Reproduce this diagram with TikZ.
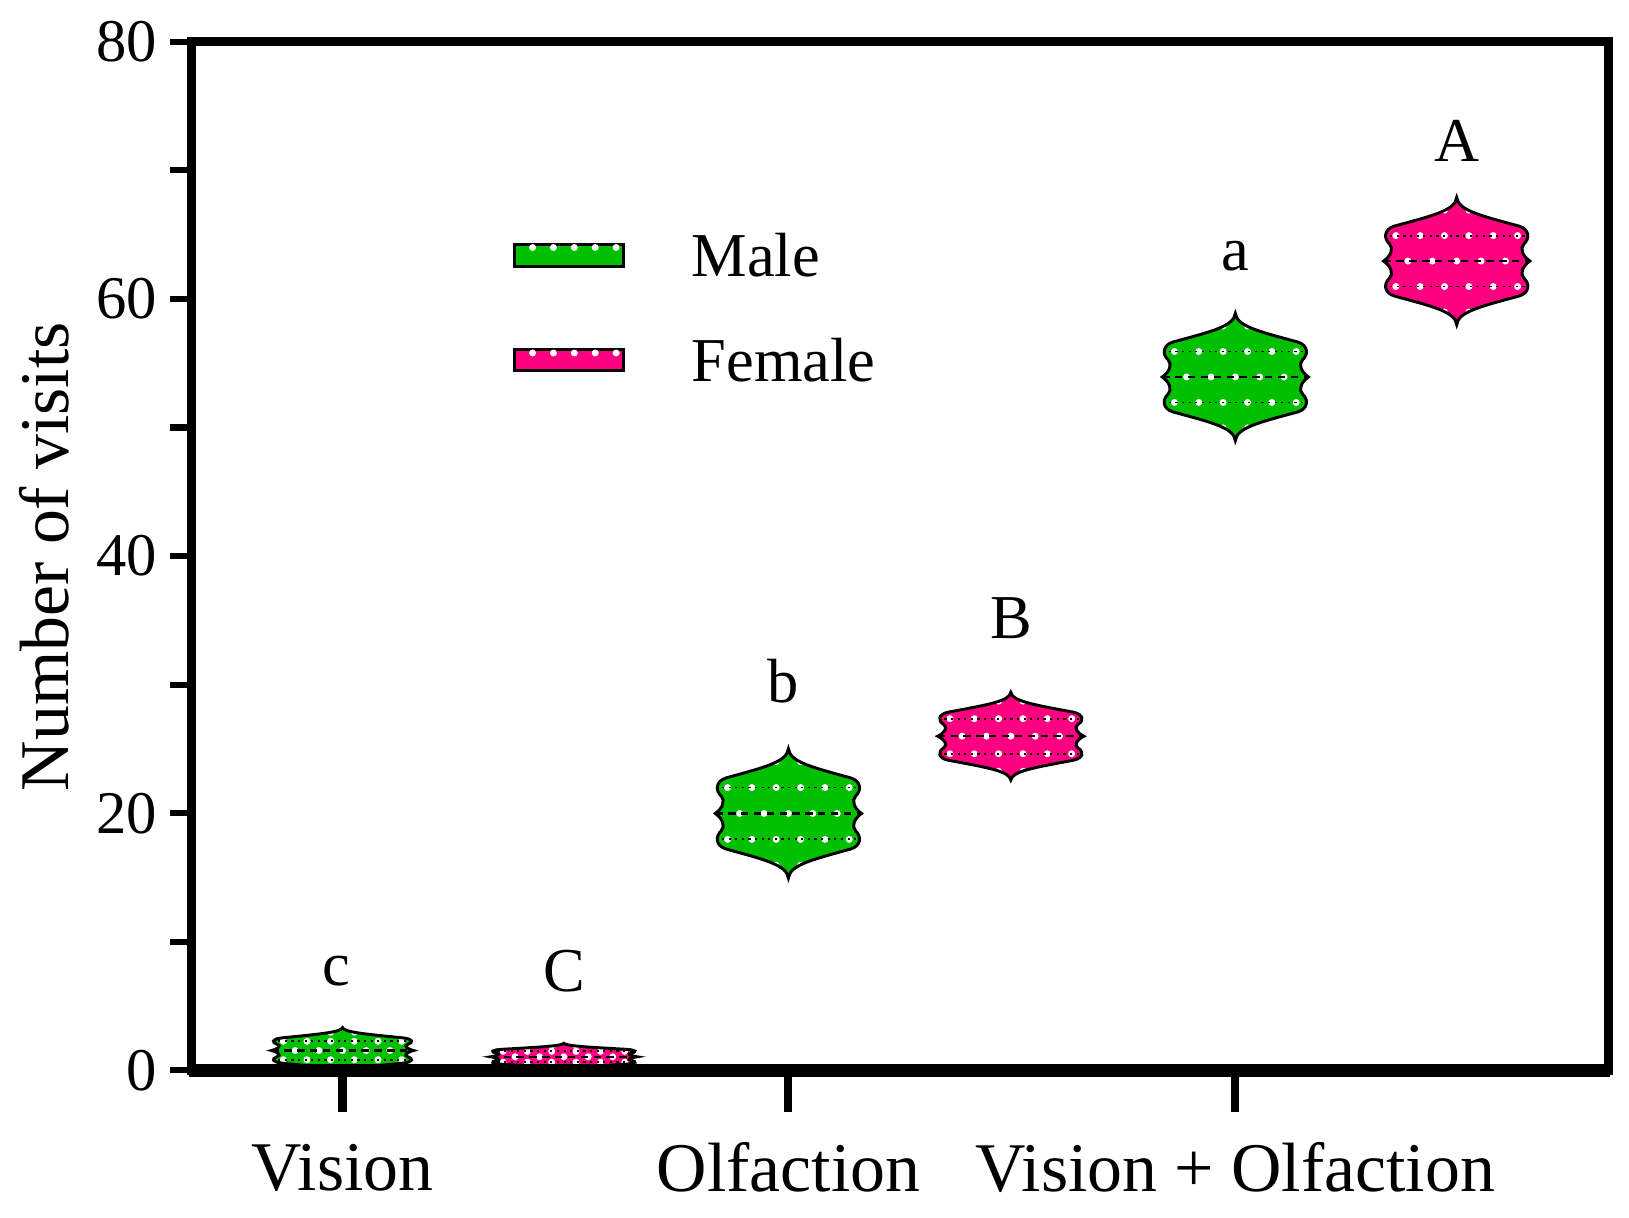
\documentclass[tikz,border=0pt]{standalone}
\usepackage{fontspec}
\setmainfont{Liberation Serif}
\definecolor{mgreen}{RGB}{0,192,0}
\definecolor{fpink}{RGB}{255,0,128}
\newcommand\vshape{(0,-1) .. controls (0.02,-0.8) and (0.3,-0.72) .. (0.85,-0.55) .. controls (1,-0.5) and (1,-0.35) .. (0.92,-0.27) .. controls (0.86,-0.2) and (0.9,-0.08) .. (1,0) .. controls (0.9,0.08) and (0.86,0.2) .. (0.92,0.27) .. controls (1,0.35) and (1,0.5) .. (0.85,0.55) .. controls (0.3,0.72) and (0.02,0.8) .. (0,1) .. controls (-0.02,0.8) and (-0.3,0.72) .. (-0.85,0.55) .. controls (-1,0.5) and (-1,0.35) .. (-0.92,0.27) .. controls (-0.86,0.2) and (-0.9,0.08) .. (-1,0) .. controls (-0.9,-0.08) and (-0.86,-0.2) .. (-0.92,-0.27) .. controls (-1,-0.35) and (-1,-0.5) .. (-0.85,-0.55) .. controls (-0.3,-0.72) and (-0.02,-0.8) .. (0,-1) -- cycle}
\newcommand\vio[5]{%
\begin{scope}[shift={(#1,#2)},xscale=#4,yscale=#3]
\fill[#5] \vshape;
\begin{scope}\clip \vshape;
\foreach \gx in {-0.833,-0.5,-0.167,0.167,0.5,0.833}{\foreach \gy in {-0.4,0.4}{\node[dot] at (\gx,\gy) {};}}
\foreach \gx in {-0.667,-0.333,0,0.333,0.667}{\node[dot] at (\gx,0) {};}
\foreach \gx in {-0.167,0.167}{\foreach \gy in {-0.8,0.8}{\node[dot] at (\gx,\gy) {};}}
\draw[dash pattern=on 2pt off 1.5pt,line width=0.6pt] (-1,0) -- (1,0);
\draw[dash pattern=on 0.6pt off 1.2pt,line width=0.5pt] (-1,-0.4) -- (1,-0.4) (-1,0.4) -- (1,0.4);
\end{scope}
\draw[line width=0.8pt] \vshape;
\end{scope}}
\tikzset{dot/.style={circle,fill=white,inner sep=0pt,minimum size=1.9pt},
 tl/.style={font=\fontsize{16.5}{18}\selectfont},
 xl/.style={font=\fontsize{19}{22}\selectfont},
 lt/.style={font=\fontsize{17}{20}\selectfont}}
\begin{document}
\begin{tikzpicture}[x=0.01cm,y=-0.01cm]
\useasboundingbox (0,0) rectangle (1560,1166);
% violins
\vio{328}{1006}{22}{68}{mgreen}
\vio{540}{1012}{13}{70}{fpink}
\vio{755}{779}{62}{70}{mgreen}
\vio{968}{705}{42}{70}{fpink}
\vio{1183}{361}{61}{70}{mgreen}
\vio{1395}{250}{61}{70}{fpink}
% frame
\draw[line width=2.4pt] (183,40) rectangle (1540,1025);
\draw[line width=3.4pt] (181,1025) -- (1542,1025);
% y ticks
\foreach \v in {0,10,...,80}{\draw[line width=1.7pt] (183,{1025-12.3125*\v}) -- (163,{1025-12.3125*\v});}
\foreach \v in {0,20,40,60,80}{\node[tl,anchor=east] (t\v) at (163,{1025-12.3125*\v}) {\v};}
% x ticks
\foreach \xx/\lab/\nm in {328/Vision/xv,755/Olfaction/xo,1183/Vision + Olfaction/xvo}{
 \draw[line width=2.2pt] (\xx,1025) -- (\xx,1065);
 \node[xl] (\nm) at (\xx,1118) {\lab};}
\node[xl,rotate=90] (ylab) at (42,533) {Number of visits};
% letters
\node[lt] (lc) at (322,930) {c};
\node[lt] (lC) at (540,930) {C};
\node[lt] (lb) at (750,652) {b};
\node[lt] (lB) at (968,592) {B};
\node[lt] (la) at (1183,245) {a};
\node[lt] (lA) at (1395,135) {A};
% legend
\fill[mgreen] (493,234) rectangle (597,255);
\draw[line width=0.8pt] (493,234) rectangle (597,255);
\foreach \gx in {510,530,...,590}{\node[dot] at (\gx,237) {};}
\fill[fpink] (493,335) rectangle (597,355);
\draw[line width=0.8pt] (493,335) rectangle (597,355);
\foreach \gx in {510,530,...,590}{\node[dot] at (\gx,338) {};}
\node[lt,anchor=west] (lm) at (650,244) {Male};
\node[lt,anchor=west] (lf) at (650,345) {Female};
\end{tikzpicture}
\end{document}
